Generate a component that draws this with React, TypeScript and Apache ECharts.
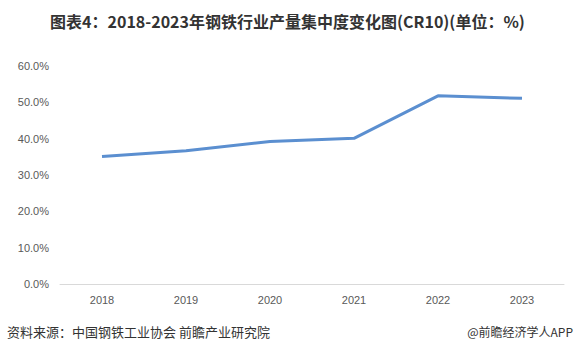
import React, { useEffect, useRef } from "react";
import * as echarts from "echarts";

const years = ["2018", "2019", "2020", "2021", "2022", "2023"];
const cr10 = [35.1, 36.7, 39.2, 40.1, 51.8, 51.1];
const titleText = "图表4：2018-2023年钢铁行业产量集中度变化图(CR10)(单位：%)";
const sourceText = "资料来源：中国钢铁工业协会 前瞻产业研究院";
const brandText = "@前瞻经济学人APP";

export default function App() {
  const ref = useRef<HTMLDivElement>(null);
  useEffect(() => {
    if (!ref.current) return;
    const chart = echarts.init(ref.current, null, { renderer: "svg" });
    chart.setOption({
      animation: false,
      backgroundColor: "#ffffff",
      title: {
        text: titleText,
        left: "center",
        top: 8,
        textStyle: {
          fontSize: 16,
          fontWeight: "bold",
          color: "#333333",
          fontFamily: "'Noto Sans CJK SC', 'Liberation Sans', sans-serif",
        },
      },
      graphic: [
        {
          type: "text",
          left: 7,
          top: 325,
          style: {
            text: sourceText,
            fontSize: 13,
            fill: "#333333",
            fontFamily: "'Noto Sans CJK SC', sans-serif",
          },
        },
        {
          type: "text",
          right: 2,
          top: 325,
          style: {
            text: brandText,
            fontSize: 12,
            fill: "#333333",
            fontFamily: "'Noto Sans CJK SC', sans-serif",
          },
        },
      ],
      grid: { left: 60, right: 11, top: 66, bottom: 73 },
      xAxis: {
        type: "category",
        data: years,
        boundaryGap: true,
        axisLine: { lineStyle: { color: "#d9d9d9" } },
        axisTick: { show: false },
        axisLabel: {
          color: "#595959",
          fontSize: 11,
          margin: 10,
          fontFamily: "'Liberation Sans', sans-serif",
        },
      },
      yAxis: {
        type: "value",
        min: 0,
        max: 60,
        interval: 10,
        splitLine: { show: false },
        axisLine: { show: false },
        axisTick: { show: false },
        axisLabel: {
          color: "#595959",
          fontSize: 11,
          margin: 11,
          formatter: (v: number) => v.toFixed(1) + "%",
          fontFamily: "'Liberation Sans', sans-serif",
        },
      },
      series: [
        {
          type: "line",
          data: cr10,
          showSymbol: false,
          symbol: "none",
          lineStyle: { color: "#5b8fd0", width: 3 },
        },
      ],
    });
    return () => chart.dispose();
  }, []);
  return (
    <div
      ref={ref}
      style={{ position: "fixed", left: 0, top: 0, width: 575, height: 357 }}
    />
  );
}
